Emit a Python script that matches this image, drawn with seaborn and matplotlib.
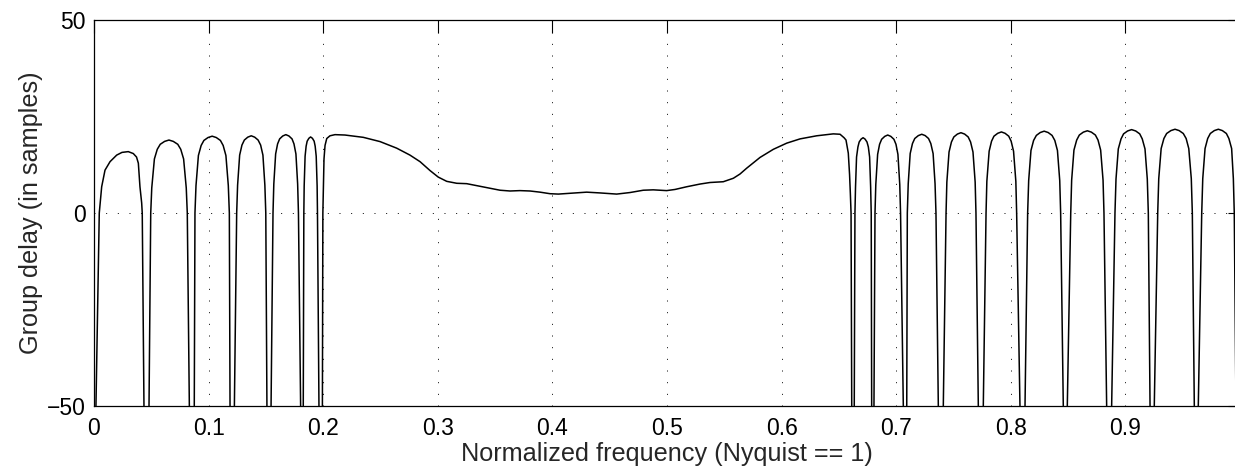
import numpy as np
import pandas as pd
import matplotlib
matplotlib.use("Agg")
import matplotlib.pyplot as plt
import seaborn as sns

# ---- data (normalized frequency, group delay in samples)
# lower stopband (values of -100 mark the off-axis spikes at the zeros)
low_freq = [0.0000, 0.0017, 0.0046, 0.0067, 0.0096, 0.0140, 0.0198, 0.0244, 0.0299, 0.0343, 0.0371, 0.0387, 0.0401, 0.0416, 0.0421, 0.0436, 0.0458,
            0.0480, 0.0495, 0.0504, 0.0527, 0.0552, 0.0578, 0.0616, 0.0654, 0.0692, 0.0731, 0.0757, 0.0782, 0.0805, 0.0814, 0.0832, 0.0853,
            0.0875, 0.0881, 0.0890, 0.0911, 0.0935, 0.0959, 0.0995, 0.1031, 0.1067, 0.1103, 0.1127, 0.1151, 0.1172, 0.1181, 0.1187, 0.1206,
            0.1225, 0.1245, 0.1253, 0.1271, 0.1291, 0.1312, 0.1342, 0.1372, 0.1402, 0.1432, 0.1454, 0.1474, 0.1491, 0.1499, 0.1509, 0.1525,
            0.1545, 0.1562, 0.1569, 0.1585, 0.1602, 0.1620, 0.1647, 0.1674, 0.1701, 0.1728, 0.1745, 0.1762, 0.1777, 0.1784, 0.1803, 0.1815,
            0.1826, 0.1831, 0.1834, 0.1842, 0.1851, 0.1860, 0.1875, 0.1890, 0.1906, 0.1921, 0.1930, 0.1939, 0.1947, 0.1950, 0.1963, 0.1979]
low_delay = [-100, -50, 0, 6.8, 11.1, 13.3, 15.0, 15.7, 15.9, 15.4, 14.5, 12.9, 6.8, 2.6, 0, -50, -100,
             -50, 0, 6.5, 14.0, 16.5, 17.8, 18.55, 18.9, 18.55, 17.8, 16.5, 14.0, 6.5, 0, -50, -100,
             -50, 0, 7.1, 14.9, 17.5, 18.8, 19.55, 19.9, 19.55, 18.8, 17.5, 14.9, 7.1, 0, -50, -100,
             -50, 0, 7.2, 15.0, 17.6, 18.9, 19.65, 20.0, 19.65, 18.9, 17.6, 15.0, 7.2, 0, -50, -100,
             -50, 0, 7.5, 15.3, 17.9, 19.2, 19.95, 20.3, 19.95, 19.2, 17.9, 15.3, 7.5, 0, -50, -100,
             -50, 0, 7.0, 14.7, 17.3, 18.6, 19.35, 19.7, 19.35, 18.6, 17.3, 14.7, 7.0, 0, -50, -100]

# passband
pass_freq = [0.1993, 0.1997, 0.2003, 0.2007, 0.2016, 0.2031, 0.2059, 0.2103, 0.2190, 0.2350, 0.2496, 0.2641, 0.2757, 0.2845,
             0.2932, 0.3004, 0.3078, 0.3165, 0.3252, 0.3339, 0.3427, 0.3543, 0.3630, 0.3717, 0.3805, 0.3892, 0.3979, 0.4052,
             0.4154, 0.4299, 0.4415, 0.4561, 0.4677, 0.4793, 0.4880, 0.4997, 0.5070, 0.5172, 0.5288, 0.5375, 0.5491, 0.5579,
             0.5637, 0.5695, 0.5812, 0.5928, 0.6045, 0.6161, 0.6306, 0.6451, 0.6510, 0.6545, 0.6562, 0.6582, 0.6593, 0.6600,
             0.6606, 0.6612, 0.6623]
pass_delay = [-50, 0, 8.0, 14.0, 17.5, 19.3, 20.0, 20.3, 20.2, 19.6, 18.5, 16.8, 15.0, 13.3,
              11.0, 9.3, 8.2, 7.7, 7.6, 7.1, 6.6, 5.9, 5.7, 5.8, 5.7, 5.4, 5.0, 4.9,
              5.1, 5.4, 5.2, 4.9, 5.3, 5.9, 6.0, 5.8, 6.1, 6.8, 7.5, 7.9, 8.1, 9.0,
              10.1, 11.6, 14.4, 16.5, 18.1, 19.2, 20.0, 20.5, 20.4, 19.5, 18.9, 15.5, 10.0, 5.0,
              0, -50, -100]

# upper stopband
up_freq = [0.6634, 0.6640, 0.6645, 0.6654, 0.6666, 0.6677, 0.6694, 0.6711, 0.6728, 0.6745, 0.6757, 0.6768, 0.6777, 0.6782, 0.6786, 0.6796,
           0.6806, 0.6815, 0.6822, 0.6838, 0.6855, 0.6873, 0.6900, 0.6926, 0.6953, 0.6980, 0.6998, 0.7015, 0.7031, 0.7038, 0.7062, 0.7077,
           0.7092, 0.7097, 0.7105, 0.7122, 0.7142, 0.7162, 0.7193, 0.7223, 0.7253, 0.7282, 0.7302, 0.7322, 0.7339, 0.7347, 0.7367, 0.7389,
           0.7411, 0.7435, 0.7442, 0.7461, 0.7482, 0.7503, 0.7534, 0.7565, 0.7597, 0.7628, 0.7649, 0.7670, 0.7689, 0.7696, 0.7716, 0.7738,
           0.7760, 0.7784, 0.7791, 0.7811, 0.7832, 0.7853, 0.7886, 0.7918, 0.7950, 0.7982, 0.8003, 0.8024, 0.8044, 0.8051, 0.8080, 0.8102,
           0.8124, 0.8147, 0.8156, 0.8176, 0.8199, 0.8223, 0.8257, 0.8291, 0.8326, 0.8360, 0.8384, 0.8407, 0.8427, 0.8435, 0.8458, 0.8476,
           0.8493, 0.8523, 0.8531, 0.8551, 0.8575, 0.8598, 0.8633, 0.8668, 0.8703, 0.8738, 0.8761, 0.8784, 0.8805, 0.8813, 0.8837, 0.8859,
           0.8880, 0.8909, 0.8918, 0.8938, 0.8962, 0.8984, 0.9019, 0.9054, 0.9090, 0.9125, 0.9147, 0.9171, 0.9191, 0.9200, 0.9215, 0.9234,
           0.9252, 0.9282, 0.9291, 0.9312, 0.9336, 0.9360, 0.9397, 0.9433, 0.9469, 0.9505, 0.9530, 0.9553, 0.9575, 0.9584, 0.9601, 0.9619,
           0.9636, 0.9666, 0.9675, 0.9695, 0.9718, 0.9741, 0.9776, 0.9811, 0.9846, 0.9881, 0.9903, 0.9927, 0.9942, 0.9950, 0.9965, 0.9983]
up_delay = [-50, 0, 6.7, 14.5, 17.1, 18.4, 19.15, 19.5, 19.15, 18.4, 17.1, 14.5, 6.7, 0, -50, -100,
            -50, 0, 7.4, 15.2, 17.8, 19.1, 19.85, 20.2, 19.85, 19.1, 17.8, 15.2, 7.4, 0, -50, -100,
            -50, 0, 7.6, 15.4, 18.0, 19.3, 20.05, 20.4, 20.05, 19.3, 18.0, 15.4, 7.6, 0, -50, -100,
            -50, 0, 8.0, 15.8, 18.4, 19.7, 20.45, 20.8, 20.45, 19.7, 18.4, 15.8, 8.0, 0, -50, -100,
            -50, 0, 8.2, 16.0, 18.6, 19.9, 20.65, 21.0, 20.65, 19.9, 18.6, 16.0, 8.2, 0, -50, -100,
            -50, 0, 8.4, 16.2, 18.8, 20.1, 20.85, 21.2, 20.85, 20.1, 18.8, 16.2, 8.4, 0, -50, -100,
            -50, 0, 8.5, 16.3, 18.9, 20.2, 20.95, 21.3, 20.95, 20.2, 18.9, 16.3, 8.5, 0, -50, -100,
            -50, 0, 8.8, 16.6, 19.2, 20.5, 21.25, 21.6, 21.25, 20.5, 19.2, 16.6, 8.8, 0, -50, -100,
            -50, 0, 8.9, 16.7, 19.3, 20.6, 21.35, 21.7, 21.35, 20.6, 19.3, 16.7, 8.9, 0, -50, -100,
            -50, 0, 8.9, 16.7, 19.3, 20.6, 21.35, 21.7, 21.35, 20.6, 19.3, 16.7, 8.9, 0, -50, -100]

x_ticks = [0, 0.1, 0.2, 0.3, 0.4, 0.5, 0.6, 0.7, 0.8, 0.9]
x_tick_labels = ["0", "0.1", "0.2", "0.3", "0.4", "0.5", "0.6", "0.7", "0.8", "0.9"]
y_ticks = [-50, 0, 50]

df = pd.DataFrame({
    "freq": low_freq + pass_freq + up_freq,
    "delay": low_delay + pass_delay + up_delay,
})

sns.set_style("white")
plt.rcParams["font.family"] = ["Liberation Sans", "DejaVu Sans"]

fig = plt.figure(figsize=(12.35, 4.75), dpi=100)
ax = fig.add_axes([94 / 1235, 1 - 406 / 475, 1146 / 1235, 386 / 475])

sns.lineplot(data=df, x="freq", y="delay", sort=False, estimator=None,
             color="black", linewidth=1.1, ax=ax)

ax.set_xlim(0, 1.0)
ax.set_ylim(-50, 50)
ax.set_xticks(x_ticks)
ax.set_xticklabels(x_tick_labels)
ax.set_yticks(y_ticks)
ax.grid(True, color="black", linestyle=(0, (1, 11)), linewidth=0.7)
ax.tick_params(direction="in", length=9, width=0.8, top=True, right=True,
               labelsize=16.5, colors="black")
ax.tick_params(axis="x", pad=8)
ax.tick_params(axis="y", pad=6)
for s in ax.spines.values():
    s.set_visible(True)
    s.set_color("black")
    s.set_linewidth(0.9)
ax.set_xlabel("Normalized frequency (Nyquist == 1)", fontsize=18.2, labelpad=1)
ax.set_ylabel("Group delay (in samples)", fontsize=18.2, labelpad=3)

fig.savefig("out.png", dpi=100)
